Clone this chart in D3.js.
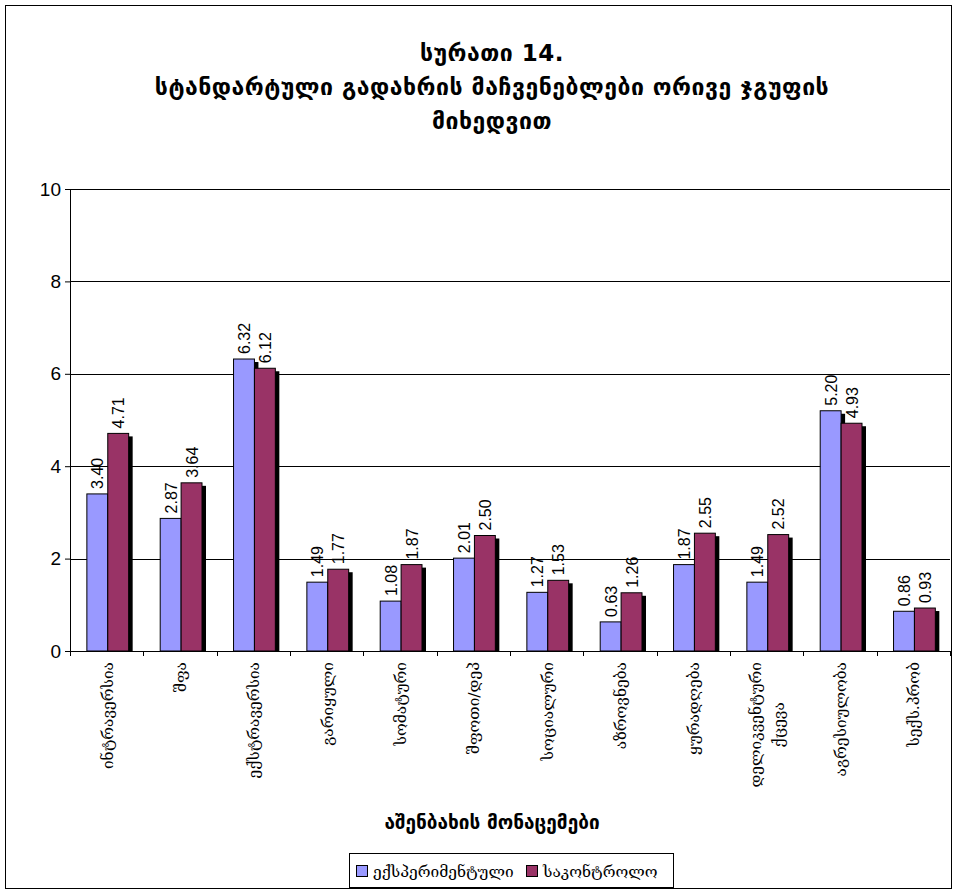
<!DOCTYPE html>
<html>
<head>
<meta charset="utf-8">
<script src="https://cdn.jsdelivr.net/npm/d3@7"></script>
<style>
  body { margin: 0; background: #fff; }
  svg { display: block; }
</style>
</head>
<body>
<div id="chart"></div>
<script>
const width = 957;
const height = 891;

const titleLines = ["სურათი 14.", "სტანდარტული გადახრის მაჩვენებლები ორივე ჯგუფის", "მიხედვით"];
const categories = [
  ["ინტრავერსია"], ["შფა"], ["ექსტრავერსია"], ["გარიყული"], ["სომატური"], ["შფოთი/დეპ"],
  ["სოციალური"], ["აზროვნება"], ["ყურადღება"], ["დელიკვენტური", "ქცევა"], ["აგრესიულობა"], ["სექს.პრობ"]
];
const seriesNames = ["ექსპერიმენტული", "საკონტროლო"];
const experimental = [3.40, 2.87, 6.32, 1.49, 1.08, 2.01, 1.27, 0.63, 1.87, 1.49, 5.20, 0.86];
const control = [4.71, 3.64, 6.12, 1.77, 1.87, 2.50, 1.53, 1.26, 2.55, 2.52, 4.93, 0.93];
const yTicks = [0, 2, 4, 6, 8, 10];
const xTitle = "აშენბახის მონაცემები";

const colors = ["#9999FF", "#993366"];
const margin = { top: 189, right: 7, bottom: 240, left: 70 };
const plotW = width - margin.left - margin.right;
const plotH = height - margin.top - margin.bottom;

const svg = d3.select("#chart").append("svg")
  .attr("width", width)
  .attr("height", height);

// outer frame
svg.append("rect")
  .attr("x", 5.5).attr("y", 5.5)
  .attr("width", 946).attr("height", 883)
  .attr("fill", "none").attr("stroke", "#000");

// title
svg.append("g").selectAll("text")
  .data(titleLines)
  .enter().append("text")
  .attr("x", 492)
  .attr("y", (d, i) => 61 + i * 34)
  .attr("text-anchor", "middle")
  .style("font-family", "DejaVu Sans")
  .style("font-weight", "bold")
  .style("font-size", "23px")
  .style("letter-spacing", "0.5px")
  .text(d => d);

const g = svg.append("g")
  .attr("transform", "translate(" + margin.left + "," + margin.top + ")");

const x = d3.scaleBand()
  .domain(d3.range(categories.length))
  .range([0, plotW]);

const inner = d3.scaleBand()
  .domain([0, 1])
  .range([x.bandwidth() * 0.23, x.bandwidth() * 0.80]);

const y = d3.scaleLinear()
  .domain([0, 10])
  .range([plotH, 0]);

// gridlines
g.append("g").selectAll("line")
  .data(yTicks.filter(t => t > 0))
  .enter().append("line")
  .attr("x1", 0).attr("x2", plotW)
  .attr("y1", d => Math.round(y(d)) + 0.5)
  .attr("y2", d => Math.round(y(d)) + 0.5)
  .attr("stroke", "#000");

// y axis
const yAxis = g.append("g")
  .call(d3.axisLeft(y).tickValues(yTicks).tickSize(5).tickPadding(4));
yAxis.selectAll("text")
  .style("font-family", "Liberation Sans, Arial")
  .style("font-size", "19px")
  .attr("fill", "#000");
yAxis.select(".domain").attr("stroke", "#000");

// bars
const rows = categories.map((c, i) => [experimental[i], control[i]]);

const groups = g.append("g").selectAll("g")
  .data(rows)
  .enter().append("g")
  .attr("transform", (d, i) => "translate(" + x(i) + ",0)");

// shadows first
groups.selectAll("rect.shadow")
  .data(d => d.map((v, s) => ({ v, s })))
  .enter().append("rect")
  .attr("class", "shadow")
  .attr("x", d => inner(d.s) + 4)
  .attr("y", d => y(d.v) + 3)
  .attr("width", inner.bandwidth())
  .attr("height", d => Math.max(0, plotH - y(d.v) - 3))
  .attr("fill", "#000");

groups.selectAll("rect.bar")
  .data(d => d.map((v, s) => ({ v, s })))
  .enter().append("rect")
  .attr("class", "bar")
  .attr("x", d => inner(d.s))
  .attr("y", d => y(d.v))
  .attr("width", inner.bandwidth())
  .attr("height", d => plotH - y(d.v))
  .attr("fill", d => colors[d.s])
  .attr("stroke", "#000")
  .attr("stroke-width", 1);

// value labels
groups.selectAll("text.val")
  .data(d => d.map((v, s) => ({ v, s })))
  .enter().append("text")
  .attr("class", "val")
  .attr("transform", d => "translate(" + (inner(d.s) + inner.bandwidth() / 2 + 6) + "," + (y(d.v) - 5) + ") rotate(-90)")
  .style("font-family", "Liberation Sans, Arial")
  .style("font-size", "16px")
  .text(d => d.v.toFixed(2));

// x axis
const xAxis = g.append("g")
  .attr("transform", "translate(0," + plotH + ")")
  .call(d3.axisBottom(x).tickSize(0).tickFormat(""));
xAxis.select(".domain").attr("stroke", "#000");
xAxis.selectAll(".tick").remove();

g.append("g").selectAll("line")
  .data(d3.range(categories.length + 1))
  .enter().append("line")
  .attr("x1", d => Math.round(d * x.step()) + 0.5)
  .attr("x2", d => Math.round(d * x.step()) + 0.5)
  .attr("y1", plotH).attr("y2", plotH + 5)
  .attr("stroke", "#000");

// category labels, rotated
const lineGap = 23;
categories.forEach((lines, i) => {
  const cx = x(i) + x.bandwidth() / 2;
  const lab = g.append("g")
    .attr("transform", "translate(" + cx + "," + (plotH + 11) + ") rotate(-90)");
  const texts = lab.selectAll("text")
    .data(lines)
    .enter().append("text")
    .attr("y", (d, k) => 6 + (k - (lines.length - 1) / 2) * lineGap)
    .style("font-family", "DejaVu Serif")
    .style("font-size", "15.5px")
    .text(d => d);
  const lens = texts.nodes().map(n => n.getComputedTextLength());
  const maxLen = d3.max(lens);
  texts.attr("x", (d, k) => -(maxLen + lens[k]) / 2);
});

// x axis title
svg.append("text")
  .attr("x", 492)
  .attr("y", 829)
  .attr("text-anchor", "middle")
  .style("font-family", "DejaVu Sans")
  .style("font-weight", "bold")
  .style("font-size", "19px")
  .text(xTitle);

// legend
const legend = svg.append("g").attr("transform", "translate(349,853)");
legend.append("rect")
  .attr("x", 0.5).attr("y", 0.5)
  .attr("width", 324).attr("height", 34)
  .attr("fill", "#fff").attr("stroke", "#000");

const legX = [7, 177];
seriesNames.forEach((name, s) => {
  legend.append("rect")
    .attr("x", legX[s] + 0.5).attr("y", 12.5)
    .attr("width", 11).attr("height", 11)
    .attr("fill", colors[s]).attr("stroke", "#000");
  legend.append("text")
    .attr("x", legX[s] + 17)
    .attr("y", 24)
    .style("font-family", "DejaVu Serif")
    .style("font-size", "15.5px")
    .text(name);
});
</script>
</body>
</html>
